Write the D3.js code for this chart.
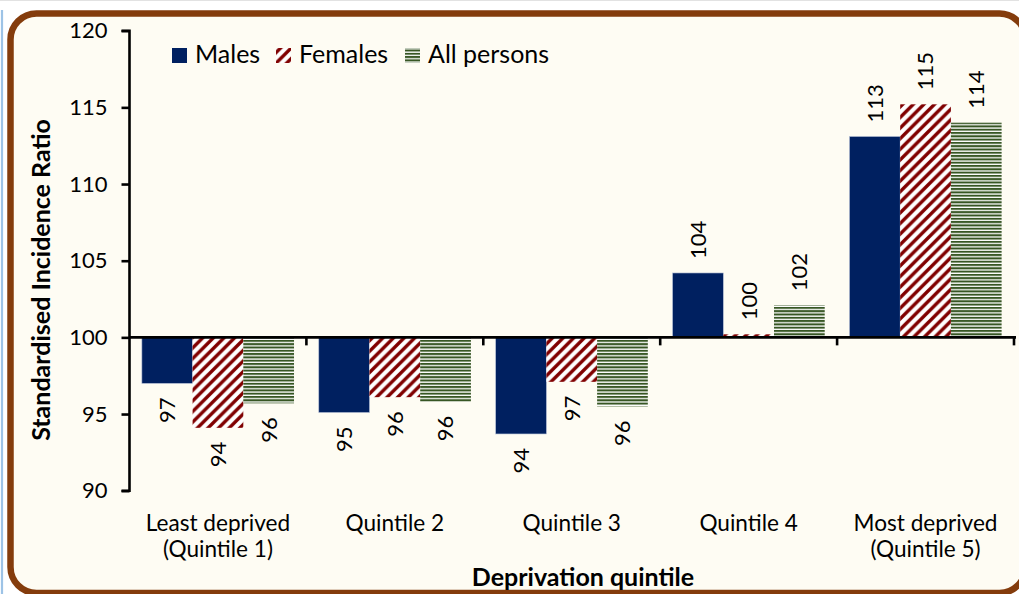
<!DOCTYPE html>
<html><head><meta charset="utf-8">
<script src="https://cdn.jsdelivr.net/npm/d3@7"></script>
<style>html,body{margin:0;padding:0;background:#fff;}svg{display:block;}</style>
</head><body>
<svg id="c" width="1019" height="594"></svg>
<script>
const categories = [["Least deprived","(Quintile 1)"],["Quintile 2"],["Quintile 3"],["Quintile 4"],["Most deprived","(Quintile 5)"]];
const seriesNames = ["Males","Females","All persons"];
const males   = [97.0, 95.1, 93.7, 104.2, 113.1];
const females = [94.1, 96.1, 97.1, 100.2, 115.2];
const allPersons = [95.7, 95.8, 95.5, 102.1, 114.0];
const yTicks = [90, 95, 100, 105, 110, 115, 120];

const FONT = "Lato, 'Open Sans', sans-serif";
const svg = d3.select("#c");
const defs = svg.append("defs");

// patterns
const pf = defs.append("pattern").attr("id","pFem").attr("patternUnits","userSpaceOnUse")
  .attr("width",10.6).attr("height",10.6);
pf.append("rect").attr("width",10.6).attr("height",10.6).attr("fill","#fff");
pf.append("path").attr("d","M-2.65,2.65 L2.65,-2.65 M0,10.6 L10.6,0 M7.95,13.25 L13.25,7.95")
  .attr("stroke","#800000").attr("stroke-width",3.4);
const pa = defs.append("pattern").attr("id","pAll").attr("patternUnits","userSpaceOnUse")
  .attr("width",8).attr("height",3.3);
pa.append("rect").attr("width",8).attr("height",3.3).attr("fill","#fff");
pa.append("rect").attr("y",0).attr("width",8).attr("height",2).attr("fill","#375623");

const fills = {"Males":"#002060","Females":"url(#pFem)","All persons":"url(#pAll)"};
const dataBy = {"Males":males,"Females":females,"All persons":allPersons};

// frame
svg.append("line").attr("x1",0).attr("x2",1019).attr("y1",0.5).attr("y2",0.5).attr("stroke","#e2e2e2").attr("stroke-width",1);
svg.append("line").attr("x1",2).attr("x2",2).attr("y1",10).attr("y2",594).attr("stroke","#9dc3e6").attr("stroke-width",2.2);
svg.append("rect").attr("x",10.5).attr("y",13.5).attr("width",1015).attr("height",579.5)
  .attr("rx",26).attr("ry",26).attr("fill","#fefcf3").attr("stroke","#843c0c").attr("stroke-width",6.5);

// scales
const y = d3.scaleLinear().domain([90,120]).range([490.7,30.7]);
const x0 = d3.scaleBand().domain(d3.range(categories.length)).range([129.5,1014]).paddingInner(0.14).paddingOuter(0.07);
const x1 = d3.scaleBand().domain(seriesNames).range([0,x0.bandwidth()]);

// bars
seriesNames.forEach(s=>{
  const vals = dataBy[s];
  svg.append("g").selectAll("rect").data(vals).join("rect")
    .attr("x",(d,i)=>x0(i)+x1(s))
    .attr("width",x1.bandwidth())
    .attr("y",d=>Math.min(y(d),y(100)))
    .attr("height",d=>Math.abs(y(d)-y(100)))
    .attr("fill",fills[s])
    .attr("stroke", s==="Males" ? "#b4bfd6" : "none").attr("stroke-width",0.6);
});

// data labels
seriesNames.forEach(s=>{
  const vals = dataBy[s];
  svg.append("g").selectAll("text").data(vals).join("text")
    .attr("transform",(d,i)=>{
      const cx = x0(i)+x1(s)+x1.bandwidth()/2;
      const cy = d>=100 ? y(d)-14 : y(d)+14;
      return `translate(${cx},${cy}) rotate(-90)`;
    })
    .attr("text-anchor",d=>d>=100?"start":"end")
    .attr("dy","0.36em")
    .attr("font-family",FONT).attr("font-size",22).attr("fill","#000")
    .text(d=>Math.round(d));
});

// y axis
const yAxis = d3.axisLeft(y).tickValues(yTicks).tickSize(8).tickPadding(14).tickFormat(d3.format("d"));
const gy = svg.append("g").attr("transform","translate(129.5,0)").call(yAxis);
gy.select(".domain").attr("stroke","#000").attr("stroke-width",2.6).attr("d",`M-8,${y(120)}H0V${y(90)}H-8`);
gy.selectAll(".tick line").attr("stroke","#000").attr("stroke-width",2.6);
gy.selectAll(".tick text").attr("font-family",FONT).attr("font-size",22).attr("fill","#000");

// x axis at 100
const xb = d3.range(categories.length+1).map(i=>129.5+i*x0.step());
const gx = svg.append("g");
gx.append("line").attr("x1",129.5).attr("x2",1016).attr("y1",y(100)).attr("y2",y(100)).attr("stroke","#000").attr("stroke-width",2.8);
gx.selectAll("line.t").data(xb.slice(1)).join("line").attr("class","t")
  .attr("x1",d=>d).attr("x2",d=>d).attr("y1",y(100)).attr("y2",y(100)+8).attr("stroke","#000").attr("stroke-width",2.6);

// category labels
const gl = svg.append("g");
categories.forEach((c,i)=>{
  const t = gl.append("text").attr("x",x0(i)+x0.bandwidth()/2).attr("y",531)
    .attr("text-anchor","middle").attr("font-family",FONT).attr("font-size",22.6).attr("fill","#000");
  c.forEach((line,j)=>t.append("tspan").attr("x",x0(i)+x0.bandwidth()/2).attr("dy",j?26:0).text(line));
});

// axis titles
svg.append("text").attr("x",583).attr("y",586).attr("text-anchor","middle")
  .attr("font-family",FONT).attr("font-weight","bold").attr("font-size",25).text("Deprivation quintile");
svg.append("text").attr("transform","translate(50,280) rotate(-90)").attr("text-anchor","middle")
  .attr("font-family",FONT).attr("font-weight","bold").attr("font-size",25).text("Standardised Incidence Ratio");

// legend
const legX = [172,276,405];
seriesNames.forEach((s,i)=>{
  svg.append("rect").attr("x",legX[i]).attr("y",48).attr("width",15).attr("height",15).attr("fill",fills[s]);
  svg.append("text").attr("x",legX[i]+23).attr("y",63).attr("font-family",FONT).attr("font-size",25).attr("fill","#000").text(s);
});
</script>
</body></html>
